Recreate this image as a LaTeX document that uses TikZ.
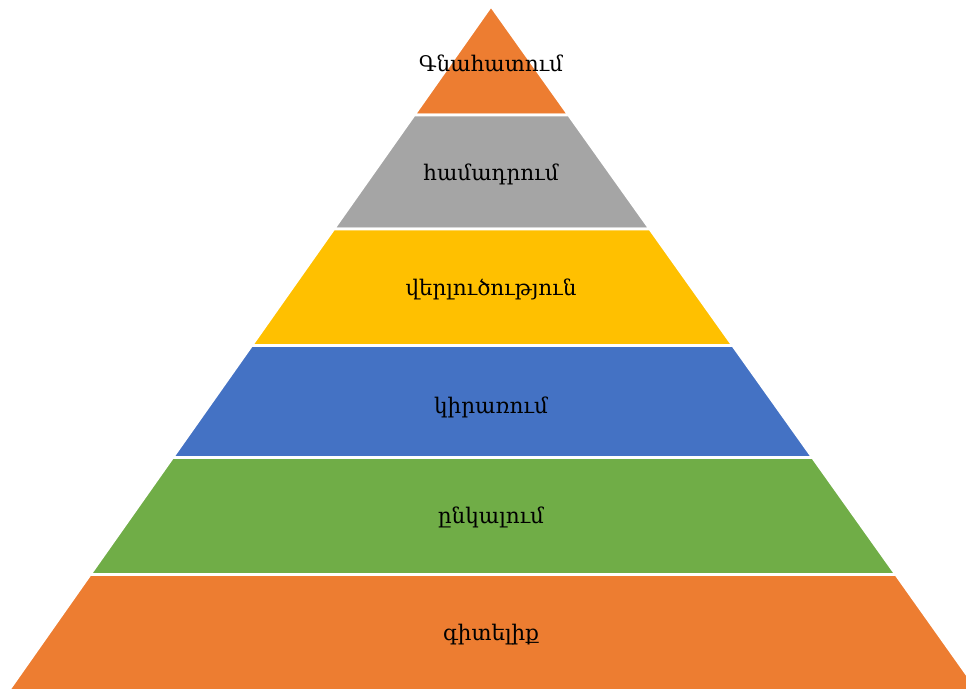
\documentclass[tikz,border=0pt]{standalone}
\usepackage{fontspec}
\newfontfamily\armfont{DejaVu Serif}
\definecolor{cOrange}{HTML}{ED7D31}
\definecolor{cGray}{HTML}{A5A5A5}
\definecolor{cYellow}{HTML}{FFC000}
\definecolor{cBlue}{HTML}{4472C4}
\definecolor{cGreen}{HTML}{70AD47}
\tikzset{
  layer/.style={draw=white, line width=2.6pt, line join=miter},
  lbl/.style={font=\armfont\fontsize{21.5}{25}\selectfont, text=black, inner sep=0pt, anchor=center}
}
\begin{document}
\begin{tikzpicture}[x=1pt,y=-1pt]
\useasboundingbox (0,0) rectangle (966,691);
\clip (0,0) rectangle (966,691);
\fill[white] (0,0) rectangle (966,691);
\filldraw[layer, fill=cOrange] (491,6) -- (414.2,115) -- (568.6,115) -- cycle;
\filldraw[layer, fill=cGray] (414.2,115) -- (333.8,229) -- (649.8,229) -- (568.6,115) -- cycle;
\filldraw[layer, fill=cYellow] (333.8,229) -- (251.7,345.5) -- (732.7,345.5) -- (649.8,229) -- cycle;
\filldraw[layer, fill=cBlue] (251.7,345.5) -- (172.7,457.5) -- (812.5,457.5) -- (732.7,345.5) -- cycle;
\filldraw[layer, fill=cGreen] (172.7,457.5) -- (90.2,574.5) -- (895.8,574.5) -- (812.5,457.5) -- cycle;
\filldraw[layer, fill=cOrange] (90.2,574.5) -- (8.8,690.3) -- (978,690.3) -- (895.8,574.5) -- cycle;
\node[lbl] (t1) at (491,63) {Գնահատում};
\node[lbl] (t2) at (491,174) {համադրում};
\node[lbl] (t3) at (491,289) {վերլուծություն};
\node[lbl] (t4) at (491,407) {կիրառում};
\node[lbl] (t5) at (491,517) {ընկալում};
\node[lbl] (t6) at (491,635) {գիտելիք};
\end{tikzpicture}
\end{document}
